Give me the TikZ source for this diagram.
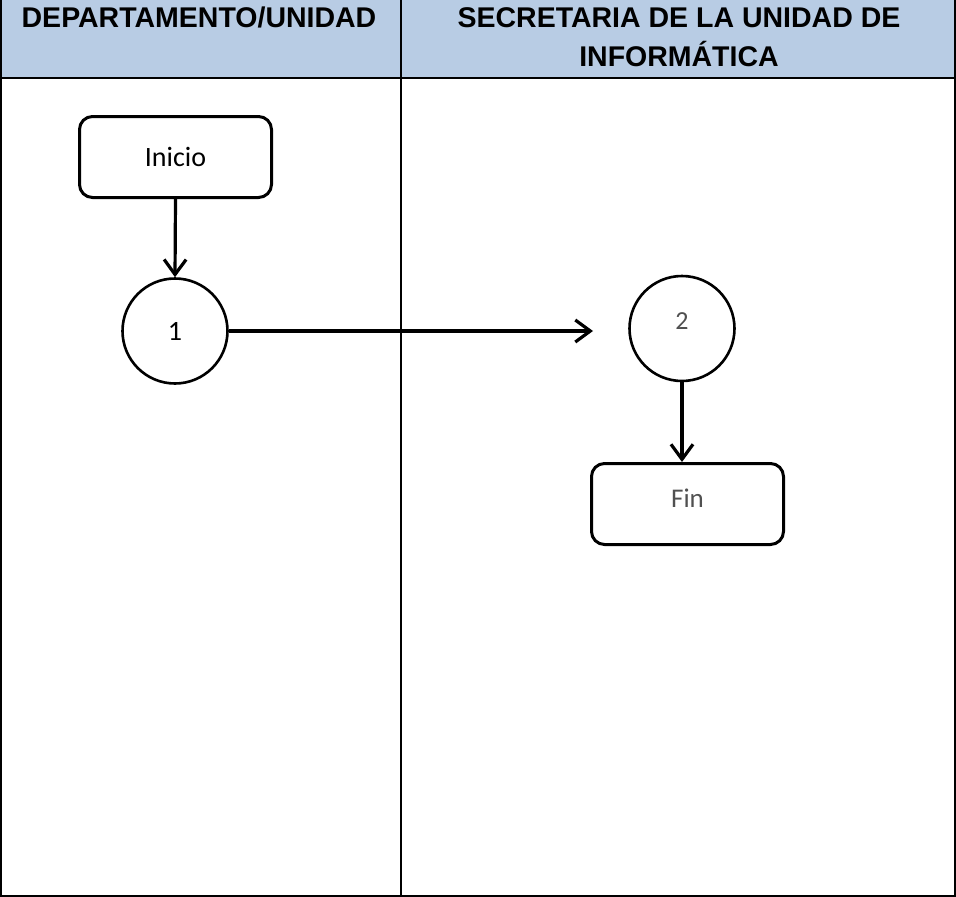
\documentclass[tikz,border=0pt]{standalone}
\usepackage{fontspec}
\setmainfont{Liberation Sans}
\newfontfamily\bodyfont{Carlito}
\usetikzlibrary{arrows.meta}
\definecolor{headblue}{HTML}{B8CCE4}
\definecolor{softtext}{HTML}{505050}
\begin{document}
\begin{tikzpicture}[x=1pt,y=-1pt,
  gridline/.style={line width=2pt},
  termbox/.style={draw, line width=3pt, rounded corners=13pt,
    minimum width=192pt, minimum height=81pt, inner sep=0pt,
    font=\bodyfont\fontsize{28}{30}\selectfont},
  connector/.style={draw, circle, line width=2.6pt, minimum size=105pt,
    inner sep=0pt, font=\bodyfont\fontsize{28}{30}\selectfont},
  flow/.style={line width=3.2pt, -{Straight Barb[length=15pt,width=22pt]}},
  lanehead/.style={font=\bfseries\fontsize{28.5}{39.5}\selectfont,
    align=center, inner sep=0pt}]
\useasboundingbox (0,0) rectangle (956,897);

% swimlane header band
\fill[headblue] (0,0) rectangle (955,78);

% table rules
\draw[gridline] (1,0) -- (1,895.5) -- (955,895.5) -- (955,0);
\draw[gridline] (0,78) -- (955,78);
\draw[line width=1.8pt] (401,0) -- (401,896);

% lane titles
\node[lanehead, anchor=base] (laneA) at (199,27.3) {DEPARTAMENTO/UNIDAD};
\node[lanehead, anchor=north] (laneB) at (679,7)
  {SECRETARIA DE LA UNIDAD DE\\INFORMÁTICA};

% flow elements
\node[termbox] (ini) at (175.5,157) {Inicio};
\node[connector, text height=19.4pt, text depth=0pt] (c1) at (175,331) {1};
\node[connector, text=softtext, font=\bodyfont\fontsize{26}{28}\selectfont,
  text height=17pt, text depth=16pt] (c2) at (682,328.5) {2};
\node[termbox, text=softtext, font=\bodyfont\fontsize{27}{29}\selectfont,
  text height=17.4pt, text depth=11.4pt] (fin) at (687.5,504) {Fin};
\coordinate (c2in) at (593,331);

% connectors
\draw[flow] (ini.south) -- (c1.north);
\draw[flow] (c1.east) -- (c2in);
\draw[flow] (c2.south) -- (c2.south |- fin.north);
\end{tikzpicture}
\end{document}
